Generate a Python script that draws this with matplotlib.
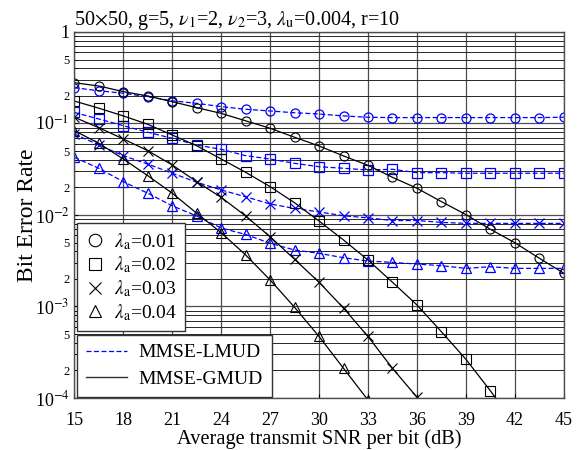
import numpy as np
import matplotlib
matplotlib.use('Agg')
import matplotlib.pyplot as plt
from matplotlib.lines import Line2D
from matplotlib.ticker import FixedLocator, FuncFormatter

plt.rcParams['font.family'] = ['Liberation Serif', 'DejaVu Serif']
plt.rcParams['mathtext.fontset'] = 'stix'

snr = [15 + 1.5 * i for i in range(21)]

# MMSE-LMUD (blue dashed)
lmud_001 = [0.246, 0.228, 0.214, 0.196, 0.177, 0.166, 0.153, 0.143, 0.137, 0.131, 0.127,
            0.121, 0.117, 0.116, 0.116, 0.116, 0.116, 0.116, 0.116, 0.116, 0.117]
lmud_002 = [0.132, 0.112, 0.0946, 0.0802, 0.0689, 0.0582, 0.0522, 0.0445, 0.0409, 0.0367, 0.0337,
            0.0324, 0.0310, 0.0316, 0.0290, 0.0290, 0.0286, 0.0286, 0.0286, 0.0286, 0.0286]
lmud_003 = [0.0767, 0.0582, 0.0445, 0.0360, 0.0286, 0.0228, 0.0188, 0.0158, 0.0132, 0.0118, 0.0108,
            0.0098, 0.0093, 0.0087, 0.0087, 0.0083, 0.0081, 0.0081, 0.0081, 0.0081, 0.0081]
lmud_004 = [0.0427, 0.0324, 0.0231, 0.0173, 0.0126, 0.00975, 0.00721, 0.00612, 0.00491, 0.00414, 0.00381,
            0.00341, 0.00314, 0.00303, 0.00291, 0.00279, 0.00261, 0.00272, 0.00261, 0.00261, 0.00261]

# MMSE-GMUD (black solid)
gmud_001 = [0.279, 0.257, 0.223, 0.200, 0.173, 0.149, 0.129, 0.107, 0.0887, 0.0707, 0.0568,
            0.0442, 0.0349, 0.0258, 0.0196, 0.0140, 0.0101, 0.00698, 0.00498, 0.00337, 0.00231]
gmud_002 = [0.176, 0.147, 0.121, 0.098, 0.0748, 0.0571, 0.0409, 0.0293, 0.0204, 0.0136, 0.00859,
            0.00533, 0.00322, 0.00184, 0.00104, 0.00053, 0.000265, 0.000120, 0.000052]
gmud_003 = [0.117, 0.090, 0.0678, 0.0505, 0.0352, 0.0231, 0.0156, 0.00975, 0.00579, 0.00328, 0.00184,
            0.00096, 0.00047, 0.000211, 0.000102]
gmud_004 = [0.0834, 0.0608, 0.0409, 0.0269, 0.0173, 0.01045, 0.00641, 0.00366, 0.00195, 0.00098, 0.00047,
            0.000211, 0.000095]

markers = ['o', 's', 'x', '^']
labels = [r'$\lambda_{\rm a}$=0.01', r'$\lambda_{\rm a}$=0.02', r'$\lambda_{\rm a}$=0.03', r'$\lambda_{\rm a}$=0.04']
xticks = [15, 18, 21, 24, 27, 30, 33, 36, 39, 42, 45]

fig = plt.figure(figsize=(5.83, 4.5), dpi=100)
ax = fig.add_axes([0.1275, 0.1156, 0.8395, 0.8133])

for m, y in zip(markers, [lmud_001, lmud_002, lmud_003, lmud_004]):
    ax.semilogy(snr[:len(y)], y, color='#0000ff', ls='--', lw=0.9, marker=m,
                ms=6.5, mfc='none', mec='#0000ff', mew=0.9, dashes=(4, 2))
for m, y in zip(markers, [gmud_001, gmud_002, gmud_003, gmud_004]):
    ax.semilogy(snr[:len(y)], y, color='black', ls='-', lw=0.9, marker=m,
                ms=6.5, mfc='none', mec='black', mew=0.8)

ax.set_xlim(15, 45)
ax.set_ylim(1e-4, 1)
ax.set_xticks(xticks)
ax.set_xticklabels([str(t) for t in xticks])

majors = [10.0 ** k for k in range(-4, 1)]
minors = [d * 10.0 ** k for k in range(-4, 0) for d in range(2, 10)]
ax.yaxis.set_major_locator(FixedLocator(majors))
ax.yaxis.set_minor_locator(FixedLocator(minors))

def major_fmt(v, pos):
    k = int(round(np.log10(v)))
    return '1' if k == 0 else r'10$^{%d}$' % k

def minor_fmt(v, pos):
    k = np.floor(np.log10(v) + 1e-9)
    d = int(round(v / 10.0 ** k))
    return str(d) if d in (2, 5) else ''

ax.yaxis.set_major_formatter(FuncFormatter(major_fmt))
ax.yaxis.set_minor_formatter(FuncFormatter(minor_fmt))
ax.tick_params(axis='y', which='major', labelsize=13, direction='in', length=3)
ax.tick_params(axis='y', which='minor', labelsize=9, direction='in', length=2)
ax.tick_params(axis='x', labelsize=13, direction='in', length=3, pad=10)

ax.grid(True, which='major', color='0.3', lw=0.9, ls='-')
ax.grid(True, which='minor', axis='y', color='0.15', lw=0.7, ls='-')
ax.set_axisbelow(True)
for s in ax.spines.values():
    s.set_color('0.3')
    s.set_linewidth(1.0)

ax.set_xlabel('Average transmit SNR per bit (dB)', fontsize=14.7, labelpad=0)
ax.set_ylabel('Bit Error Rate', fontsize=17)
ax.yaxis.set_label_coords(-0.075, 0.5)
ax.set_title(r'50$\times$50, g=5, $\nu_1$=2, $\nu_2$=3, $\lambda_{\rm u}$=0.004, r=10',
             fontsize=14.5, loc='left', pad=3)

h1 = [Line2D([], [], ls='none', marker=m, ms=9, mfc='none', mec='black', mew=0.8) for m in markers]
leg1 = ax.legend(h1, labels, loc='upper left', bbox_to_anchor=(0.006, 0.477), borderaxespad=0,
                 fontsize=14, frameon=True, fancybox=False, edgecolor='0.2', framealpha=1,
                 handlelength=1.0, handletextpad=0.5, labelspacing=0.15, borderpad=0.4)
leg1.get_frame().set_linewidth(1.0)
ax.add_artist(leg1)

h2 = [Line2D([], [], color='#0000ff', ls='--', lw=0.9, dashes=(4, 2)),
      Line2D([], [], color='0.2', ls='-', lw=1.0)]
leg2 = ax.legend(h2, ['MMSE-LMUD', 'MMSE-GMUD'], loc='upper left', bbox_to_anchor=(0.006, 0.172),
                 borderaxespad=0, fontsize=14, frameon=True, fancybox=False, edgecolor='0.2',
                 framealpha=1, handlelength=2.1, handletextpad=0.6, labelspacing=0.45,
                 borderpad=0.45)
leg2.get_frame().set_linewidth(1.0)

fig.savefig('out.png', dpi=100)
